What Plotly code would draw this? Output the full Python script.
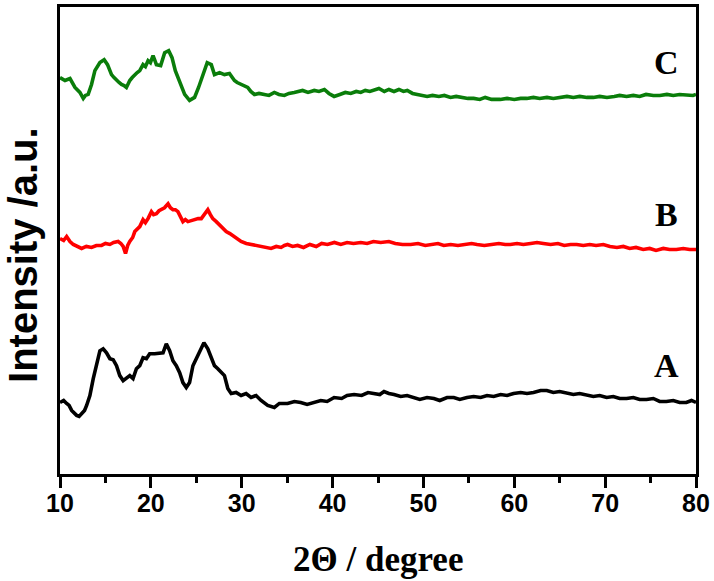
import plotly.graph_objects as go

# ---- data (intensity in arbitrary units, offset stacked) ----
theta_A = [10.0, 10.4, 10.73, 11.0, 11.28, 11.6, 11.83, 12.1, 12.38, 12.7, 12.93, 13.29, 13.66, 14.02, 14.39, 14.75,
           15.12, 15.49, 15.85, 16.22, 16.58, 16.95, 17.31, 17.68, 18.04, 18.41, 18.78, 19.14, 19.51, 19.87, 20.42,
           20.97, 21.34, 21.7, 22.07, 22.43, 22.8, 23.17, 23.53, 23.9, 24.26, 24.63, 25.0, 25.36, 25.84, 26.27, 26.65,
           27.0, 27.37, 27.74, 28.1, 28.47, 28.84, 29.38, 29.93, 30.48, 31.03, 31.58, 32.13, 32.86, 33.59, 34.14,
           35.05, 35.8, 36.5, 37.2, 37.98, 38.7, 39.4, 40.17, 41.0, 41.6, 42.37, 43.2, 43.9, 44.56, 45.2, 45.66, 46.2,
           46.76, 47.5, 48.2, 48.95, 49.6, 50.4, 51.15, 51.8, 52.6, 53.34, 54.0, 54.8, 55.53, 56.3, 57.0, 57.73, 58.5,
           59.2, 59.92, 60.7, 61.4, 62.12, 62.9, 63.58, 64.3, 65.0, 65.77, 66.5, 67.2, 67.97, 68.7, 69.4, 70.16, 70.9,
           71.6, 72.36, 73.1, 73.8, 74.55, 75.3, 76.0, 76.74, 77.5, 78.2, 78.94, 79.5, 80.0]
int_A = [72, 74, 71, 69, 64, 61, 59, 58, 61, 64, 69, 79, 96, 112, 124, 126,
         122, 116, 115, 109, 99, 94, 97, 99, 96, 106, 109, 117, 116, 121, 121,
         122, 122, 131, 124, 114, 109, 102, 92, 87, 92, 109, 116, 124, 132, 126, 117,
         109, 106, 102, 99, 86, 81, 82, 79, 81, 77, 79, 74, 69, 67, 71,
         71, 73, 72, 70, 72, 74, 73, 77, 76, 79, 80, 79, 82, 81, 80, 83, 81,
         80, 78, 79, 77, 75, 77, 76, 74, 77, 77, 75, 77, 78, 77, 79, 78, 80,
         79, 81, 82, 81, 82, 84, 84, 82, 83, 81, 80, 81, 79, 78, 79, 77, 78,
         76, 76, 77, 75, 75, 76, 73, 73, 74, 72, 72, 74, 72]

theta_B = [10.0, 10.4, 10.73, 11.1, 11.46, 11.9, 12.38, 12.9, 13.47, 14.0, 14.57, 15.0, 15.49, 15.9, 16.4, 16.7,
           16.95, 17.21, 17.45, 17.68, 18.0, 18.23, 18.5, 18.78, 19.14, 19.4, 19.69, 20.06, 20.3, 20.61, 20.9, 21.16,
           21.5, 21.89, 22.15, 22.43, 22.7, 22.98, 23.25, 23.53, 23.8, 24.08, 24.45, 24.81, 25.2, 25.55, 25.9, 26.27,
           26.55, 26.82, 27.2, 27.56, 27.9, 28.29, 28.7, 29.2, 29.6, 29.93, 30.5, 31.03, 31.6, 32.13, 32.7, 33.23,
           33.8, 34.33, 34.7, 35.05, 35.6, 36.15, 36.8, 37.5, 38.2, 38.8, 39.44, 40.2, 40.9, 41.6, 42.3, 43.1, 43.8,
           44.5, 45.3, 46.2, 46.9, 47.7, 48.6, 49.4, 50.2, 51.0, 51.6, 52.24, 53.0, 53.8, 54.6, 55.3, 55.9, 56.7,
           57.5, 58.3, 59.0, 59.56, 60.3, 61.0, 61.8, 62.5, 63.2, 64.0, 64.8, 65.5, 66.2, 66.87, 67.6, 68.3, 69.0,
           69.8, 70.53, 71.3, 72.0, 72.7, 73.4, 74.19, 74.9, 75.6, 76.4, 77.1, 77.84, 78.6, 79.3, 80.0]
int_B = [237, 235, 239, 234, 231, 229, 227, 229, 228, 230, 230, 232, 231, 233, 234, 232,
         229, 222, 230, 234, 238, 244, 246, 249, 256, 253, 257, 264, 261, 262, 265, 266,
         268, 272, 268, 266, 266, 264, 259, 254, 256, 254, 255, 256, 257, 257, 261, 266,
         261, 257, 254, 251, 247, 244, 242, 239, 236, 234, 232, 231, 230, 229, 228, 227,
         229, 228, 230, 231, 229, 230, 228, 231, 229, 232, 231, 233, 231, 233, 232, 233, 232,
         234, 233, 234, 232, 231, 231, 232, 230, 231, 232, 230, 231, 230, 231, 232, 231, 230,
         231, 232, 231, 231, 232, 231, 232, 233, 232, 231, 232, 230, 231, 231, 230, 231, 230,
         231, 229, 228, 229, 227, 228, 226, 227, 225, 227, 226, 226, 227, 226, 226]

theta_C = [10.0, 10.55, 11.1, 11.4, 11.65, 12.19, 12.56, 12.8, 13.1, 13.47, 13.84, 14.39, 14.86, 15.23, 15.67, 15.95,
           16.22, 16.5, 16.77, 17.05, 17.31, 17.68, 17.95, 18.23, 18.5, 18.78, 19.14, 19.4, 19.69, 19.95, 20.24,
           20.45, 20.61, 21.08, 21.52, 21.96, 22.33, 22.69, 23.17, 23.72, 24.26, 24.81, 25.25, 25.73, 26.2, 26.65,
           27.0, 27.56, 28.1, 28.65, 29.2, 29.5, 29.93, 30.3, 30.66, 31.0, 31.4, 31.9, 32.49, 33.0, 33.59, 34.1,
           34.69, 35.2, 35.78, 36.3, 36.7, 37.3, 37.98, 38.5, 39.1, 39.6, 40.17, 40.8, 41.4, 42.0, 42.6, 43.1, 43.6,
           44.1, 44.56, 45.1, 45.7, 46.2, 46.76, 47.3, 47.8, 48.22, 48.8, 49.4, 49.9, 50.41, 51.0, 51.7, 52.3, 52.98,
           53.6, 54.2, 54.9, 55.53, 56.2, 56.8, 57.5, 58.46, 59.2, 60.0, 60.7, 61.38, 62.1, 62.8, 63.6, 64.3, 65.04,
           65.8, 66.5, 67.2, 68.0, 68.7, 69.4, 70.2, 71.0, 71.6, 72.36, 73.1, 73.8, 74.5, 75.3, 76.02, 76.8, 77.5,
           78.2, 79.0, 79.67, 80.0]
int_C = [399, 396, 398, 393, 389, 384, 378, 381, 382, 392, 406, 414, 417, 412, 402, 399,
         396, 394, 392, 391, 389, 396, 399, 402, 404, 406, 412, 410, 416, 414, 421,
         416, 412, 411, 424, 426, 419, 406, 394, 382, 376, 379, 389, 402, 414, 412,
         402, 404, 402, 403, 396, 394, 392, 390, 389, 385, 382, 383, 382, 381, 384, 382,
         381, 383, 384, 385, 386, 384, 386, 385, 387, 383, 380, 382, 384, 383, 385, 384, 386,
         385, 386, 388, 385, 387, 385, 387, 385, 386, 383, 382, 381, 380, 381, 380, 381, 379,
         380, 379, 378, 378, 377, 379, 377, 377, 378, 377, 378, 378, 379, 378, 379, 378, 379,
         380, 379, 380, 379, 379, 380, 379, 380, 381, 380, 381, 380, 382, 381, 381, 382, 381,
         382, 381, 381, 382]

series_names = ["A", "B", "C"]
series_colors = ["#000000", "#ff0000", "#0a7d0a"]
label_pos_theta = [76.8, 76.7, 76.7]
label_pos_int = [109, 261, 414]

x_ticks = [10, 20, 30, 40, 50, 60, 70, 80]
x_minor_ticks = [15, 25, 35, 45, 55, 65, 75]

fig = go.Figure()
for name, xs, ys, col in zip(series_names, [theta_A, theta_B, theta_C], [int_A, int_B, int_C], series_colors):
    fig.add_trace(go.Scatter(x=xs, y=ys, mode="lines", name=name,
                             line=dict(color=col, width=3.6), showlegend=False))

for name, lx, ly in zip(series_names, label_pos_theta, label_pos_int):
    fig.add_annotation(x=lx, y=ly, text=name, showarrow=False, xanchor="center", yanchor="middle",
                       font=dict(family="Liberation Serif", size=34, color="black", weight="bold"))

fig.add_annotation(xref="paper", yref="paper", x=0.5, y=-0.183, text="2\u0398 / degree", showarrow=False,
                   xanchor="center", yanchor="middle",
                   font=dict(family="Liberation Serif", size=35, color="black", weight="bold"))
fig.add_annotation(xref="paper", yref="paper", x=-0.059, y=0.47, text="Intensity /a.u.", showarrow=False,
                   xanchor="center", yanchor="middle", textangle=-90,
                   font=dict(family="Liberation Sans", size=40, color="black", weight="bold"))

fig.update_xaxes(range=[10, 80], tickvals=x_ticks, ticks="outside", ticklen=11, tickwidth=3, tickcolor="black",
                 showline=True, linewidth=3, linecolor="black", mirror=True, showgrid=False, zeroline=False,
                 ticklabelstandoff=-6,
                 tickfont=dict(family="Liberation Sans", size=25, color="black", weight="bold"),
                 minor=dict(tickvals=x_minor_ticks, ticks="outside", ticklen=6, tickwidth=3,
                            tickcolor="black", showgrid=False))
fig.update_yaxes(range=[0, 470], showticklabels=False, ticks="", showline=True, linewidth=3, linecolor="black",
                 mirror=True, showgrid=False, zeroline=False)

fig.update_layout(width=714, height=581, margin=dict(l=60, r=16, t=4, b=107),
                  plot_bgcolor="white", paper_bgcolor="white")

fig.write_html("out.html")
